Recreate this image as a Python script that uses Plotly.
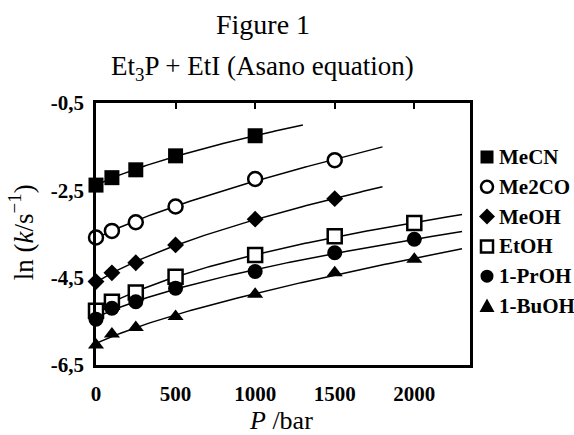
import numpy as np
import plotly.graph_objects as go

# Pressure (bar) and ln(k/s^-1) for Et3P + EtI in each solvent
solvents = ["MeCN", "Me2CO", "MeOH", "EtOH", "1-PrOH", "1-BuOH"]

p_mecn = [0, 100, 250, 500, 1000]
lnk_mecn = [-2.38, -2.21, -2.03, -1.71, -1.25]

p_me2co = [0, 100, 250, 500, 1000, 1500]
lnk_me2co = [-3.58, -3.43, -3.23, -2.87, -2.24, -1.81]

p_meoh = [0, 100, 250, 500, 1000, 1500]
lnk_meoh = [-4.59, -4.39, -4.16, -3.75, -3.16, -2.69]

p_etoh = [0, 100, 250, 500, 1000, 1500, 2000]
lnk_etoh = [-5.26, -5.05, -4.84, -4.48, -3.98, -3.55, -3.25]

p_proh = [0, 100, 250, 500, 1000, 1500, 2000]
lnk_proh = [-5.45, -5.20, -5.05, -4.74, -4.36, -3.93, -3.62]

p_buoh = [0, 100, 250, 500, 1000, 1500, 2000]
lnk_buoh = [-6.04, -5.79, -5.64, -5.39, -4.88, -4.39, -4.08]

# upper pressure of each fitted curve
fit_end = [1300, 1800, 1800, 2300, 2300, 2300]

x_ticks = [0, 500, 1000, 1500, 2000]
x_ticktext = ["0", "500", "1000", "1500", "2000"]
y_ticks = [-0.5, -2.5, -4.5, -6.5]
y_ticktext = ["-0,5", "-2,5", "-4,5", "-6,5"]

pressures = [p_mecn, p_me2co, p_meoh, p_etoh, p_proh, p_buoh]
lnks = [lnk_mecn, lnk_me2co, lnk_meoh, lnk_etoh, lnk_proh, lnk_buoh]

symbols = ["square", "circle", "diamond", "square", "circle", "triangle-up"]
fills = ["black", "white", "black", "white", "black", "black"]
sizes = [15, 14, 13, 14, 15, 14]

SERIF = "Liberation Serif"

# page geometry (px)
W, H = 574, 435
M_L, M_R, M_T, M_B = 96, 104, 103, 70
PLOT_W = W - M_L - M_R
PLOT_H = H - M_T - M_B


def px_to_paper(x, y):
    return (x - M_L) / PLOT_W, (H - M_B - y) / PLOT_H


def bold(s):
    return "<b>" + s + "</b>"


def asano_fit(p, lnk, p_max):
    """Least-squares fit ln k = a + b*P + c*ln(1 + P/500)."""
    p = np.asarray(p, float)
    A = np.column_stack([np.ones_like(p), p, np.log1p(p / 500.0)])
    coef, *_ = np.linalg.lstsq(A, np.asarray(lnk, float), rcond=None)
    pp = np.linspace(0, p_max, 120)
    B = np.column_stack([np.ones_like(pp), pp, np.log1p(pp / 500.0)])
    return pp, B @ coef


fig = go.Figure()

for name, p, lnk, pend in zip(solvents, pressures, lnks, fit_end):
    px, py = asano_fit(p, lnk, pend)
    fig.add_trace(go.Scatter(x=px, y=py, mode="lines",
                             line=dict(color="black", width=1.5),
                             showlegend=False, hoverinfo="skip"))

for name, p, lnk, sym, fill, sz in zip(solvents, pressures, lnks, symbols, fills, sizes):
    fig.add_trace(go.Scatter(
        x=p, y=lnk, mode="markers", name=name, showlegend=False,
        marker=dict(symbol=sym, size=sz, color=fill,
                    line=dict(color="black", width=2.5 if fill == "white" else 0)),
        cliponaxis=False))

# ticks along the top edge of the frame
fig.add_trace(go.Scatter(x=[None], y=[None], xaxis="x2", showlegend=False))

# key to the symbols, to the right of the frame
KEY_X, KEY_TOP, KEY_STEP, KEY_GAP = 487, 157, 29.8, 10
glyph_paths = {
    "diamond": "M0,-8 L8,0 L0,8 L-8,0 Z",
    "triangle-up": "M-7.5,-6 L7.5,-6 L0,7.5 Z",
}
shapes = []
annotations = []
for i, (name, sym, fill) in enumerate(zip(solvents, symbols, fills)):
    ax, ay = px_to_paper(KEY_X, KEY_TOP + i * KEY_STEP)
    lw = 2.5 if fill == "white" else 0
    r = 6 if fill == "white" else 6.5
    base = dict(xref="paper", yref="paper", xsizemode="pixel", ysizemode="pixel",
                xanchor=ax, yanchor=ay, fillcolor=fill,
                line=dict(color="black", width=lw))
    if sym in ("square", "circle"):
        shapes.append(dict(type="rect" if sym == "square" else "circle",
                           x0=-r, x1=r, y0=-r, y1=r, **base))
    else:
        shapes.append(dict(type="path", path=glyph_paths[sym], **base))
    tx, ty = px_to_paper(KEY_X + KEY_GAP, KEY_TOP + i * KEY_STEP)
    annotations.append(dict(text=bold(name), xref="paper", yref="paper", x=tx, y=ty,
                            xanchor="left", yanchor="middle", showarrow=False,
                            font=dict(family=SERIF, size=21)))

annotations += [
    dict(text="Figure 1", xref="paper", yref="paper", x=0.4465, y=1.3015,
         xanchor="center", yanchor="middle", showarrow=False,
         font=dict(family=SERIF, size=28)),
    dict(text="Et<sub>3</sub>P + EtI (Asano equation)", xref="paper", yref="paper",
         x=0.4465, y=1.1336, xanchor="center", yanchor="middle", showarrow=False,
         font=dict(family=SERIF, size=27)),
    dict(text="ln (<i>k</i>/s<sup>−1</sup>)", xref="paper", yref="paper",
         x=-0.2, y=0.5076, xanchor="center", yanchor="middle", textangle=-90,
         showarrow=False, font=dict(family=SERIF, size=27)),
    dict(text="<i>P</i> /bar", xref="paper", yref="paper", x=0.4947, y=-0.21,
         xanchor="center", yanchor="middle", showarrow=False,
         font=dict(family=SERIF, size=26)),
]

fig.update_layout(
    width=W, height=H,
    margin=dict(l=M_L, r=M_R, t=M_T, b=M_B),
    paper_bgcolor="white", plot_bgcolor="white",
    font=dict(family=SERIF, color="black"),
    showlegend=False,
    xaxis=dict(range=[0, 2350], tickvals=x_ticks,
               ticktext=[bold(t) for t in x_ticktext], ticks="", showgrid=False,
               zeroline=False, showline=True, linecolor="black", linewidth=2.5,
               mirror=True, tickfont=dict(family=SERIF, size=21),
               ticklabelstandoff=8),
    xaxis2=dict(range=[0, 2350], overlaying="x", side="top", tickvals=x_ticks[1:],
                ticks="inside", ticklen=6, tickwidth=2, tickcolor="black",
                showticklabels=False, showgrid=False, zeroline=False, showline=False),
    yaxis=dict(range=[-6.5, -0.5], tickvals=y_ticks,
               ticktext=[bold(t) for t in y_ticktext],
               ticks="", showgrid=False, zeroline=False, showline=True,
               linecolor="black", linewidth=2.5, mirror=True,
               tickfont=dict(family=SERIF, size=21),
               ticklabelstandoff=5),
    shapes=shapes,
    annotations=annotations,
)

fig.write_html("out.html")
